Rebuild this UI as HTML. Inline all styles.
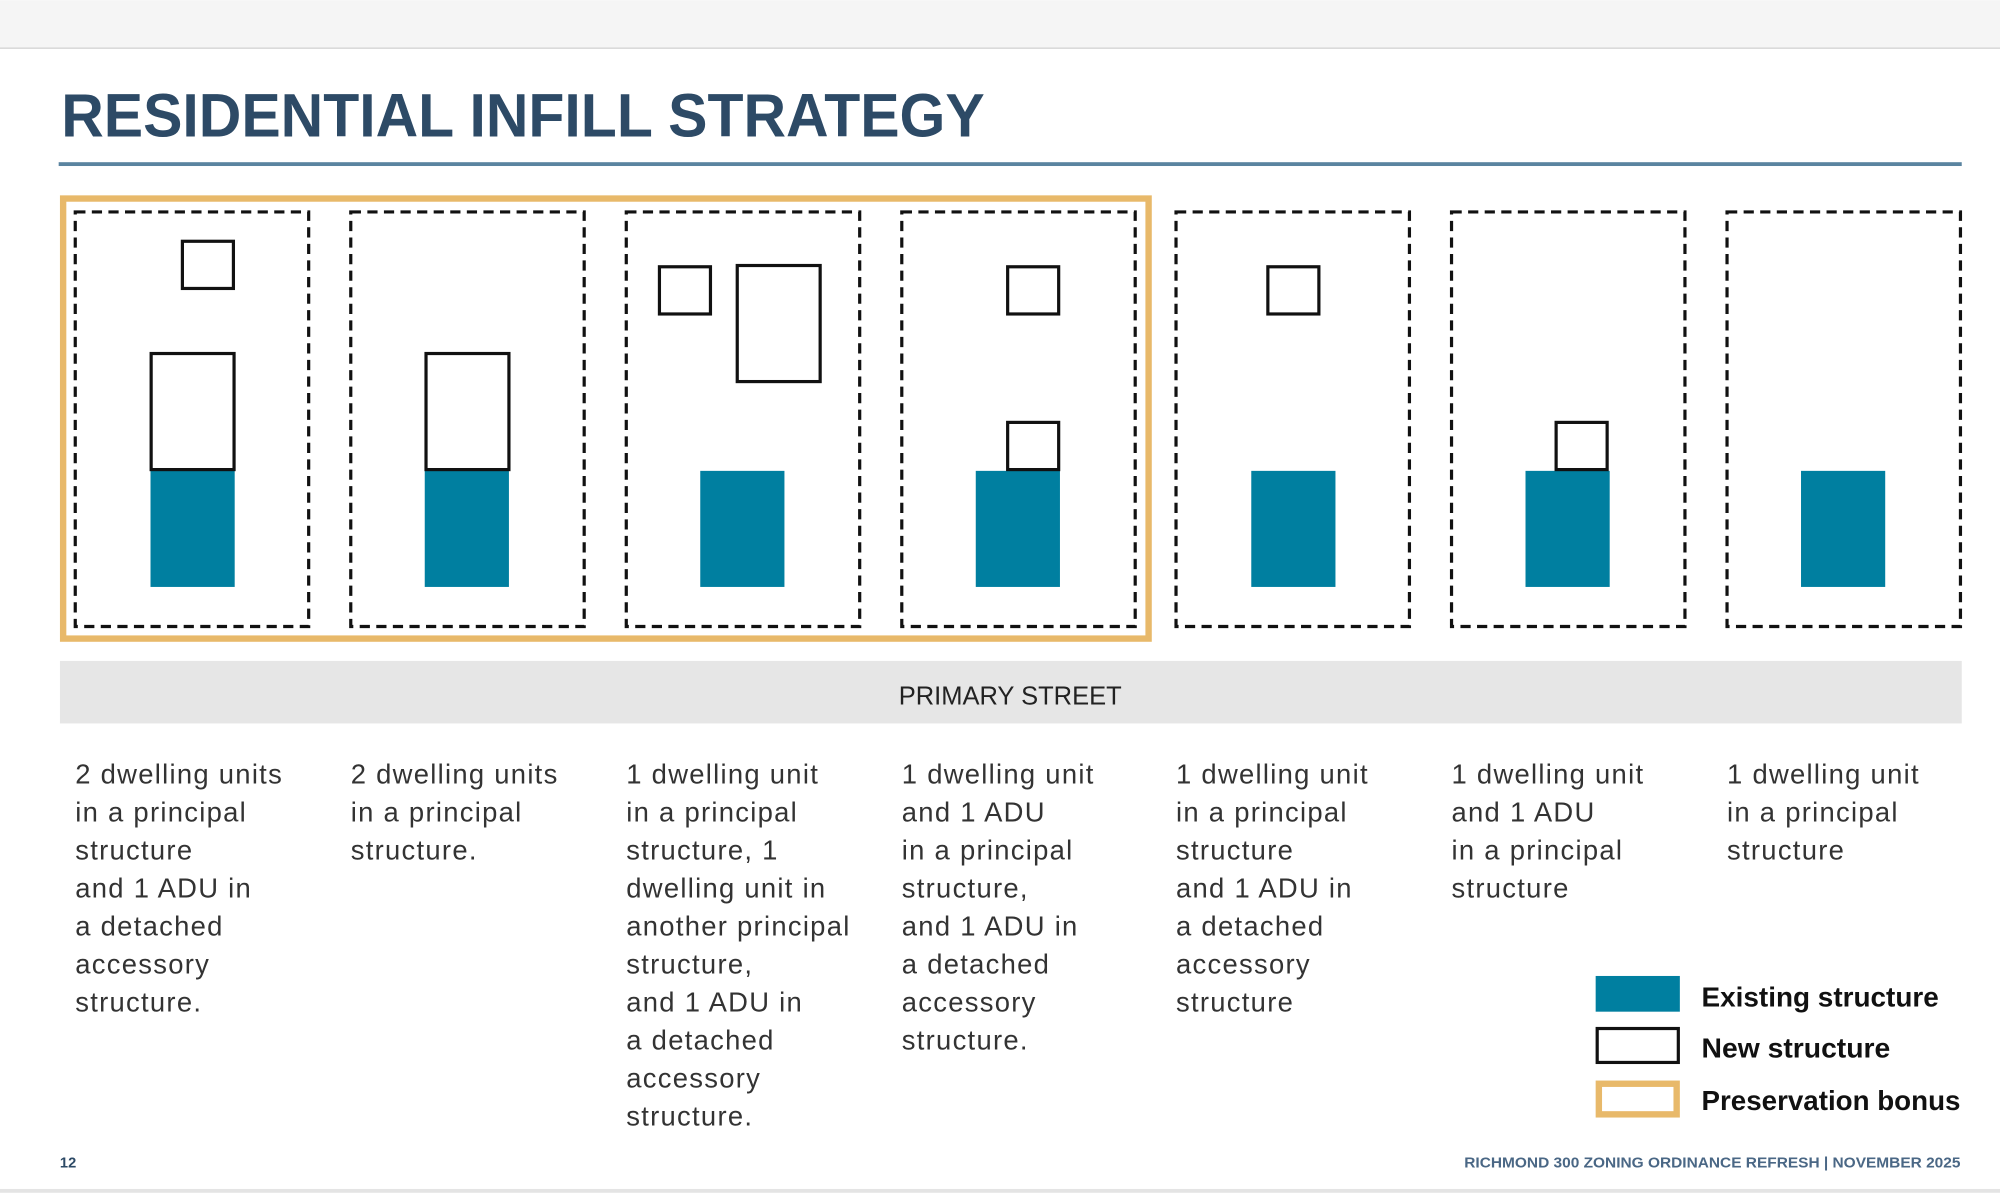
<!DOCTYPE html>
<html><head><meta charset="utf-8"><style>
html,body{margin:0;padding:0;background:#fff;}
svg{display:block;}
</style></head><body>
<svg width="2000" height="1193" viewBox="0 0 1568 935" xmlns="http://www.w3.org/2000/svg" font-family="'Liberation Sans', sans-serif">
<rect x="0" y="0" width="1568" height="935" fill="#fff"/>
<rect x="0" y="0" width="1568" height="37" fill="#f5f5f5"/>
<rect x="0" y="37" width="1568" height="1.2" fill="#d8d8d8"/>
<rect x="0" y="932" width="1568" height="3" fill="#e4e4e4"/>
<text x="48" y="107" font-size="48" font-weight="bold" fill="#2d4a66" textLength="724" lengthAdjust="spacingAndGlyphs">RESIDENTIAL INFILL STRATEGY</text>
<rect x="46" y="127" width="1492" height="3" fill="#5a84a0"/>
<rect x="49.5" y="155.5" width="851" height="345" fill="none" stroke="#e8b96a" stroke-width="5"/>
<g fill="none" stroke="#111" stroke-width="2.5" stroke-dasharray="8,5">
<rect x="59" y="166" width="183" height="325"/>
<rect x="275" y="166" width="183" height="325"/>
<rect x="491" y="166" width="183" height="325"/>
<rect x="707" y="166" width="183" height="325"/>
<rect x="922" y="166" width="183" height="325"/>
<rect x="1138" y="166" width="183" height="325"/>
<rect x="1354" y="166" width="183" height="325"/>
</g>
<g fill="#007fa0">
<rect x="118" y="369" width="66" height="91"/>
<rect x="333" y="369" width="66" height="91"/>
<rect x="549" y="369" width="66" height="91"/>
<rect x="765" y="369" width="66" height="91"/>
<rect x="981" y="369" width="66" height="91"/>
<rect x="1196" y="369" width="66" height="91"/>
<rect x="1412" y="369" width="66" height="91"/>
</g>
<g fill="#fff" stroke="#111" stroke-width="2.5">
<rect x="143" y="189" width="40" height="37"/>
<rect x="118.5" y="277" width="65" height="91"/>
<rect x="334" y="277" width="65" height="91"/>
<rect x="517" y="209" width="40" height="37"/>
<rect x="578" y="208" width="65" height="91"/>
<rect x="790" y="209" width="40" height="37"/>
<rect x="790" y="331" width="40" height="37"/>
<rect x="994" y="209" width="40" height="37"/>
<rect x="1220" y="331" width="40" height="37"/>
</g>
<rect x="47" y="518" width="1491" height="49" fill="#e6e6e6"/>
<text x="792" y="552" font-size="20" fill="#222" text-anchor="middle">PRIMARY STREET</text>
<g font-size="21.5" fill="#333" letter-spacing="1">
<text x="59" y="614"><tspan x="59">2 dwelling units</tspan><tspan x="59" dy="29.8">in a principal</tspan><tspan x="59" dy="29.8">structure</tspan><tspan x="59" dy="29.8">and 1 ADU in</tspan><tspan x="59" dy="29.8">a detached</tspan><tspan x="59" dy="29.8">accessory</tspan><tspan x="59" dy="29.8">structure.</tspan></text>
<text x="275" y="614"><tspan x="275">2 dwelling units</tspan><tspan x="275" dy="29.8">in a principal</tspan><tspan x="275" dy="29.8">structure.</tspan></text>
<text x="491" y="614"><tspan x="491">1 dwelling unit</tspan><tspan x="491" dy="29.8">in a principal</tspan><tspan x="491" dy="29.8">structure, 1</tspan><tspan x="491" dy="29.8">dwelling unit in</tspan><tspan x="491" dy="29.8">another principal</tspan><tspan x="491" dy="29.8">structure,</tspan><tspan x="491" dy="29.8">and 1 ADU in</tspan><tspan x="491" dy="29.8">a detached</tspan><tspan x="491" dy="29.8">accessory</tspan><tspan x="491" dy="29.8">structure.</tspan></text>
<text x="707" y="614"><tspan x="707">1 dwelling unit</tspan><tspan x="707" dy="29.8">and 1 ADU</tspan><tspan x="707" dy="29.8">in a principal</tspan><tspan x="707" dy="29.8">structure,</tspan><tspan x="707" dy="29.8">and 1 ADU in</tspan><tspan x="707" dy="29.8">a detached</tspan><tspan x="707" dy="29.8">accessory</tspan><tspan x="707" dy="29.8">structure.</tspan></text>
<text x="922" y="614"><tspan x="922">1 dwelling unit</tspan><tspan x="922" dy="29.8">in a principal</tspan><tspan x="922" dy="29.8">structure</tspan><tspan x="922" dy="29.8">and 1 ADU in</tspan><tspan x="922" dy="29.8">a detached</tspan><tspan x="922" dy="29.8">accessory</tspan><tspan x="922" dy="29.8">structure</tspan></text>
<text x="1138" y="614"><tspan x="1138">1 dwelling unit</tspan><tspan x="1138" dy="29.8">and 1 ADU</tspan><tspan x="1138" dy="29.8">in a principal</tspan><tspan x="1138" dy="29.8">structure</tspan></text>
<text x="1354" y="614"><tspan x="1354">1 dwelling unit</tspan><tspan x="1354" dy="29.8">in a principal</tspan><tspan x="1354" dy="29.8">structure</tspan></text>
</g>
<rect x="1251" y="765" width="66" height="28" fill="#007fa0"/>
<rect x="1252.2" y="806.2" width="63.6" height="26.6" fill="#fff" stroke="#111" stroke-width="2.5"/>
<rect x="1253.5" y="849.5" width="61" height="24" fill="#fff" stroke="#e8b96a" stroke-width="5"/>
<g font-size="22" font-weight="bold" fill="#111">
<text x="1334" y="789" textLength="186" lengthAdjust="spacingAndGlyphs">Existing structure</text>
<text x="1334" y="829" textLength="148" lengthAdjust="spacingAndGlyphs">New structure</text>
<text x="1334" y="870" textLength="203" lengthAdjust="spacingAndGlyphs">Preservation bonus</text>
</g>
<text x="47" y="915" font-size="11.5" font-weight="bold" fill="#2d4a66">12</text>
<text x="1537" y="915" font-size="11.5" font-weight="bold" fill="#4a6785" text-anchor="end" textLength="389" lengthAdjust="spacingAndGlyphs">RICHMOND 300 ZONING ORDINANCE REFRESH | NOVEMBER 2025</text>
</svg>
</body></html>
